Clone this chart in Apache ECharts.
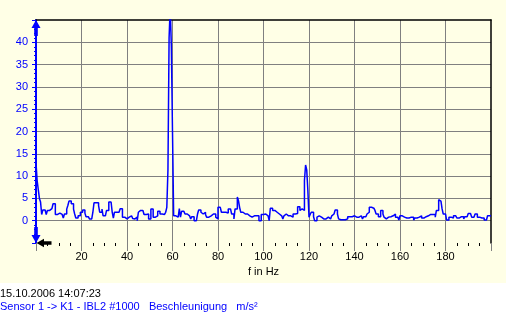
<!DOCTYPE html>
<html>
<head>
<meta charset="utf-8">
<script src="https://cdn.jsdelivr.net/npm/echarts@6/dist/echarts.min.js"></script>
<style>html,body{margin:0;padding:0;background:#fff}#c{width:506px;height:316px}</style>
</head>
<body>
<div id="c"></div>
<script>
// Spectrum bins: 0.5 Hz wide, starting at 0 Hz (values in m/s²)
const binWidthHz = 0.5;
const accelBins = [
  13, 9, 7, 5, 4.2, 1.4, 2.4, 2.4, 2.4, 1.4, 2.3, 2.3, 1.9, 2.7, 2.7, 3.8, 3.8, 1.4, 1.4, 1.7,
  1.7, 1.7, 1.4, 1.4, 0.6, 1.5, 1.5, 2.6, 3.4, 4.4, 4.4, 3.8, 3.8, 2.6, 1.5, 0.6, 0.6, 1.1, 1.1, 1.9,
  1.9, 2.4, 2.4, 1.7, 0.9, 0.9, 0.9, 0.4, 0.4, 0.4, 1.9, 4.0, 4.0, 4.0, 4.0, 3.4, 1.9, 1.9, 2.6, 1.1,
  1.1, 1.1, 2.3, 2.3, 4.2, 4.2, 4.2, 1.9, 0.6, 1.9, 1.9, 1.9, 1.9, 1.9, 2.7, 2.7, 0.8, 0.8, 0.4, 0.4,
  0.4, 0.8, 0.8, 1.1, 1.1, 0.5, 0.4, 0.8, 0.8, 0, 1.9, 2.3, 2.3, 2.3, 2.3, 1.4, 1.4, 1.5, 1.5, 0.4,
  0.4, 2.65, 2.65, 0.8, 0.8, 1.1, 1.1, 2.1, 2.1, 1.5, 1.5, 1.9, 1.4, 1.4, 1.9, 3.0, 11.4, 41, 48, 39,
  20, 1.1, 1.1, 1.1, 0.8, 0.8, 2.7, 0.8, 2.1, 2.1, 2.4, 1.5, 1.5, 1.9, 1.1, 1.1, 0.4, 0.9, 0.9, 0,
  0, 0.2, 1.5, 2.4, 2.4, 1.9, 1.5, 1.5, 1.9, 1.4, 0.8, 0.8, 0.8, 1.1, 1.1, 1.5, 1.5, 1.5, 0.8, 0.4,
  3.0, 3.0, 2.65, 1.9, 1.9, 1.5, 1.9, 1.9, 1.7, 2.65, 2.65, 2.65, 1.5, 1.5, 0.4, 2.65, 2.65, 5.3, 4.5, 3.0,
  1.9, 1.9, 1.5, 1.5, 1.1, 1.5, 1.5, 1.1, 0.8, 0.8, 1.1, 1.1, 0.8, 1.1, 1.1, 1.1, 0, 0, 1.4, 1.4,
  1.5, 1.5, 1.5, 1.1, 1.1, 0, 2.8, 2.8, 2.3, 2.3, 2.3, 1.9, 1.5, 1.5, 1.1, 1.1, 1.1, 0.4, 1.1, 1.5,
  1.5, 1.1, 1.1, 1.1, 0.8, 0.8, 1.5, 1.5, 1.6, 1.6, 3.1, 3.1, 2.3, 2.65, 2.65, 2.3, 9, 12.5, 11.4, 6.8,
  0.8, 1.4, 1.9, 1.9, 0.9, 0, 0, 0.8, 1.1, 1.1, 0.8, 0.8, 0.4, 0.8, 0.4, 0.8, 0.8, 0.8, 0.4, 0.4,
  1.1, 1.5, 1.9, 2.4, 2.4, 1.5, 0.4, 0.2, 0.2, 0.2, 0.2, 0.2, 0.4, 0.4, 0.9, 0.9, 0.9, 0.9, 0.9, 1.1,
  1.1, 0.8, 0.8, 0.8, 0.9, 1.1, 1.1, 0.4, 0.9, 0.9, 0.9, 1.5, 1.9, 3.0, 3.0, 2.8, 2.8, 2.8, 2.3, 1.5,
  1.5, 0.9, 0.9, 2.3, 2.3, 1.5, 0.8, 0.4, 0.8, 0.8, 0.4, 0.9, 1.1, 1.1, 1.5, 1.5, 0.8, 0.8, 0.8, 0.15,
  1.1, 1.1, 1.1, 0.8, 0.6, 0.6, 0.8, 0.6, 0.6, 0.8, 0.8, 0.8, 0.15, 0.6, 0.6, 0.6, 0.8, 0.8, 1.1, 0.6,
  0.6, 0.9, 0.9, 0.9, 1.1, 1.4, 1.4, 1.4, 1.4, 1.4, 1.4, 0.8, 2.3, 2.3, 4.7, 4.4, 4.4, 2.65, 1.5, 1.5,
  1.1, 0.15, 0.15, 0.8, 0.8, 0.8, 0.6, 1.1, 1.1, 1.1, 0.6, 0.6, 0.6, 0.9, 0.9, 0.9, 0.4, 0.9, 0.9, 0.9,
  1.6, 1.6, 1.6, 0.8, 0.8, 0.8, 1.5, 1.5, 0.8, 0.8, 0.8, 0.6, 0.6, 0.6, 0.15, 0.15, 0.15, 1.1, 1.1, 1.1
];
const xRange = [0, 200];
const xStep = 20;
const yRange = [-5, 45];
const yStep = 5;
const xAxisName = 'f in Hz';
const footerDate = '15.10.2006 14:07:23';
const footerSensor = 'Sensor 1 -> K1 - IBL2 #1000   Beschleunigung   m/s\u00B2';

const seriesData = accelBins.map((v, i) => [i * binWidthHz, v]);
seriesData.push([xRange[1], accelBins[accelBins.length - 1]]);

const FONT = 'Liberation Sans';
const BG = '#ffffe6';
const arrowPath = 'path://M4.5,0 L9,8 L6.3,8 L6.3,16 L2.7,16 L2.7,8 L0,8 Z';

const chart = echarts.init(document.getElementById('c'), null, {renderer: 'canvas'});
chart.setOption({
  backgroundColor: BG,
  animation: false,
  textStyle: {fontFamily: FONT},
  graphic: [{
    type: 'rect', left: 0, bottom: 0, z: 0,
    shape: {width: 506, height: 33},
    style: {fill: '#ffffff'}
  }],
  title: [
    {text: footerDate, left: 0, top: 288, padding: 0, z: 10,
     textStyle: {fontSize: 11, fontWeight: 'normal', color: '#000000', fontFamily: FONT}},
    {text: footerSensor, left: 0, top: 301, padding: 0, z: 10,
     textStyle: {fontSize: 11, fontWeight: 'normal', color: '#0000ff', fontFamily: FONT}}
  ],
  grid: {left: 36, top: 20, width: 455, height: 223, containLabel: false},
  xAxis: [{
    type: 'value', position: 'bottom', min: xRange[0], max: xRange[1], interval: xStep,
    name: xAxisName, nameLocation: 'middle', nameGap: 21,
    nameTextStyle: {color: '#000', fontSize: 11, fontFamily: FONT},
    axisLine: {show: true, onZero: false, symbol: [arrowPath, 'none'], symbolSize: [9, 15],
               symbolOffset: [8, 0], lineStyle: {color: '#000000', width: 0}},
    axisTick: {show: true, length: 8, lineStyle: {color: '#808080', width: 1}},
    minorTick: {show: true, splitNumber: 4, length: 3, lineStyle: {color: '#000000', width: 1}},
    axisLabel: {color: '#000', fontSize: 11, margin: 8, showMinLabel: false, showMaxLabel: false, fontFamily: FONT},
    splitLine: {show: true, showMinLine: false, showMaxLine: false, lineStyle: {color: '#808080', width: 1}}
  }, {
    type: 'value', position: 'top', min: xRange[0], max: xRange[1],
    axisLine: {show: true, onZero: false, lineStyle: {color: '#000000', width: 1.5}},
    axisTick: {show: false}, axisLabel: {show: false}, splitLine: {show: false}
  }],
  yAxis: [{
    type: 'value', position: 'left', min: yRange[0], max: yRange[1], interval: yStep,
    axisLine: {show: true, onZero: false, symbol: [arrowPath, arrowPath], symbolSize: [9, 16],
               symbolOffset: [8, -8], lineStyle: {color: '#0000ff', width: 2}},
    axisTick: {show: true, length: 4, lineStyle: {color: '#0000ff', width: 1}},
    minorTick: {show: true, splitNumber: 5, length: 2, lineStyle: {color: '#0000ff', width: 1}},
    axisLabel: {color: '#0000ff', fontSize: 11, margin: 8, showMinLabel: false, showMaxLabel: false, fontFamily: FONT},
    splitLine: {show: true, showMinLine: false, showMaxLine: false, lineStyle: {color: '#808080', width: 1}}
  }, {
    type: 'value', position: 'right', min: yRange[0], max: yRange[1],
    axisLine: {show: true, onZero: false, lineStyle: {color: '#000000', width: 1.5}},
    axisTick: {show: false}, axisLabel: {show: false}, splitLine: {show: false}
  }],
  series: [{
    type: 'line', xAxisIndex: 0, yAxisIndex: 0,
    data: seriesData, step: 'end', showSymbol: false, clip: true,
    lineStyle: {color: '#0000ff', width: 1.5}, z: 3
  }]
});
</script>
</body>
</html>
